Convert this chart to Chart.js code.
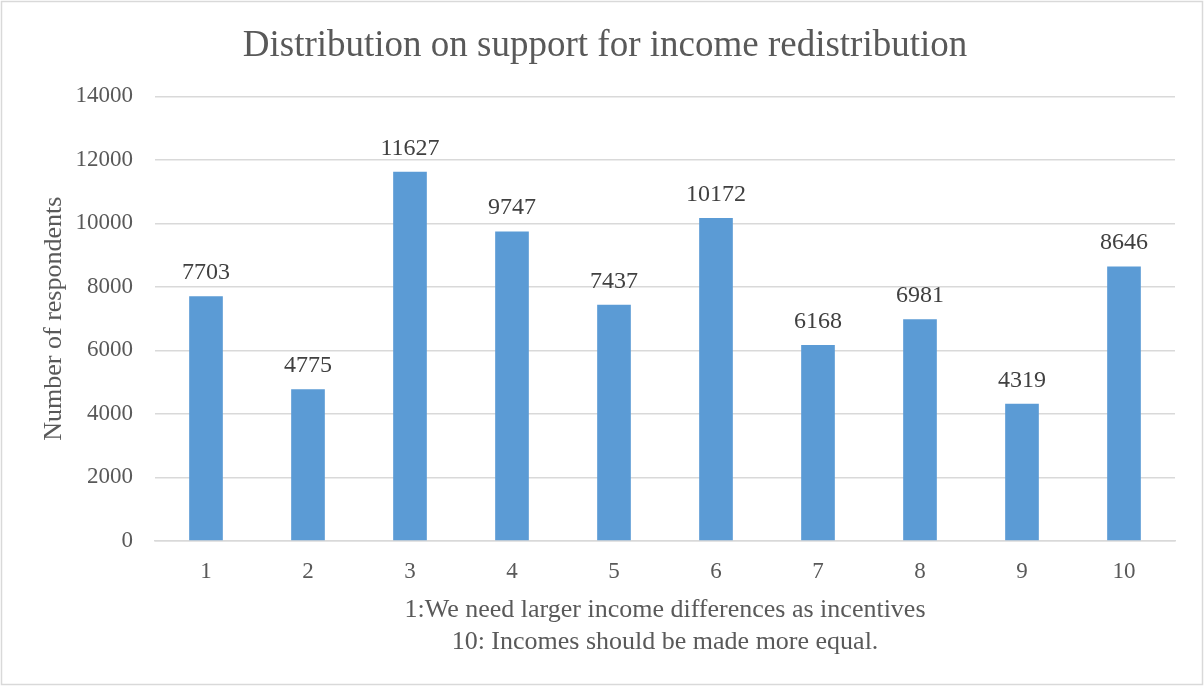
<!DOCTYPE html>
<html>
<head>
<meta charset="utf-8">
<script src="https://cdn.jsdelivr.net/npm/chart.js@4"></script>
<style>
  html, body { margin: 0; padding: 0; background: #fff; }
  #wrap { width: 1204px; height: 686px; position: relative; }
</style>
</head>
<body>
<div id="wrap"><canvas id="chart" width="1204" height="686"></canvas></div>
<script>
// data
const categories = ['1', '2', '3', '4', '5', '6', '7', '8', '9', '10'];
const respondents = [7703, 4775, 11627, 9747, 7437, 10172, 6168, 6981, 4319, 8646];
const yTicks = [0, 2000, 4000, 6000, 8000, 10000, 12000, 14000];

const FONT = '"Liberation Serif", "Times New Roman", serif';
const GREY = '#595959';

// white background + outer border
const frame = {
    id: 'frame',
    beforeDraw: (chart) => {
        const ctx = chart.ctx;
        ctx.save();
        ctx.fillStyle = '#fff';
        ctx.fillRect(0, 0, chart.width, chart.height);
        ctx.restore();
    },
    afterDraw: (chart) => {
        const ctx = chart.ctx;
        ctx.save();
        ctx.strokeStyle = '#d9d9d9';
        ctx.lineWidth = 1.5;
        ctx.strokeRect(1.5, 1.5, chart.width - 3, chart.height - 3);
        ctx.restore();
    }
};

// values above bars
const valueLabels = {
    id: 'valueLabels',
    afterDatasetsDraw: (chart) => {
        const ctx = chart.ctx;
        const meta = chart.getDatasetMeta(0);
        ctx.save();
        ctx.font = '24px ' + FONT;
        ctx.fillStyle = '#404040';
        ctx.textAlign = 'center';
        ctx.textBaseline = 'alphabetic';
        meta.data.forEach((bar, i) => {
            ctx.fillText(String(respondents[i]), bar.x, bar.y - 17);
        });
        ctx.restore();
    }
};

new Chart(document.getElementById('chart'), {
    type: 'bar',
    data: {
        labels: categories,
        datasets: [{
            data: respondents,
            backgroundColor: '#5b9bd5',
            borderWidth: 0,
            barPercentage: 0.33,
            categoryPercentage: 1
        }]
    },
    options: {
        responsive: false,
        animation: false,
        layout: { padding: { left: 35, right: 29, top: 0, bottom: 28 } },
        plugins: {
            legend: { display: false },
            tooltip: { enabled: false },
            title: {
                display: true,
                text: 'Distribution on support for income redistribution',
                color: GREY,
                font: { family: FONT, size: 37, weight: 'normal' },
                padding: { top: 24, bottom: 28 }
            }
        },
        scales: {
            x: {
                grid: { display: false, drawTicks: false },
                border: { color: '#d9d9d9', width: 1.5 },
                ticks: { color: GREY, font: { family: FONT, size: 23 }, padding: 17 },
                title: {
                    display: true,
                    text: ['1:We need larger income differences as incentives', '10: Incomes should be made more equal.'],
                    color: GREY,
                    font: { family: FONT, size: 26, lineHeight: 1.22 },
                    padding: { top: -8, bottom: 0 }
                }
            },
            y: {
                min: 0,
                max: 14000,
                afterBuildTicks: (scale) => { scale.ticks = yTicks.map(v => ({ value: v })); },
                afterFit: (scale) => { scale.width = 120; },
                grid: { color: '#d9d9d9', lineWidth: 1.5, drawTicks: false },
                border: { display: false },
                ticks: {
                    color: GREY,
                    font: { family: FONT, size: 23 },
                    padding: 22,
                    callback: (v) => String(v)
                },
                title: {
                    display: true,
                    text: 'Number of respondents',
                    color: GREY,
                    font: { family: FONT, size: 26 },
                    padding: { top: 4, bottom: 0 }
                }
            }
        }
    },
    plugins: [frame, valueLabels]
});
</script>
</body>
</html>
